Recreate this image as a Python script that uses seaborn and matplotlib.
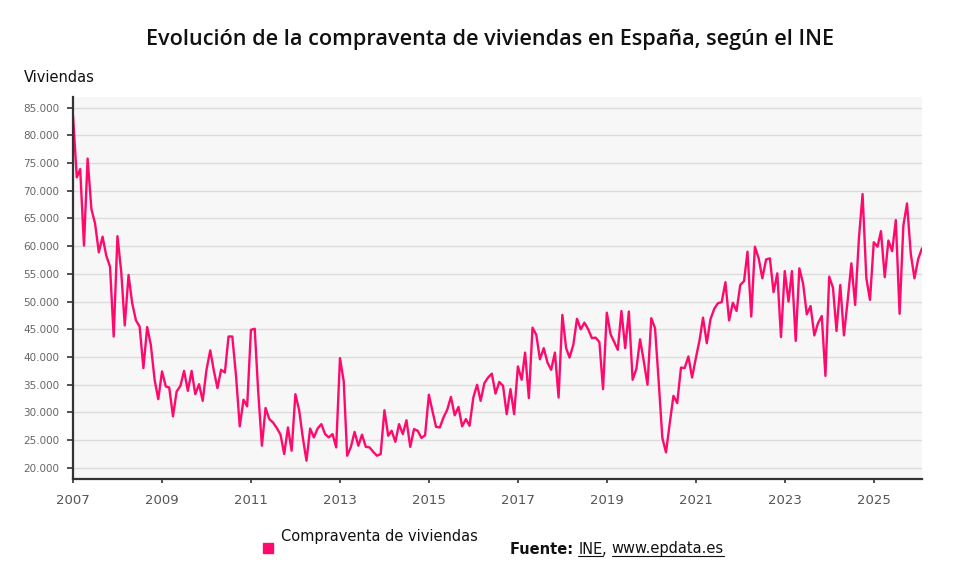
import matplotlib.pyplot as plt
import matplotlib.ticker as mticker
from matplotlib.lines import Line2D
import seaborn as sns
import pandas as pd

# Compraventa de viviendas, datos mensuales desde enero de 2007
inicio = '2007-01-01'
compraventa = [
    83600, 72400, 73900, 60100, 75800, 66700, 64100, 58900, 61700, 58300, 56300, 43700,  # 2007
    61800, 55400, 45700, 54800, 49700, 46600, 45500, 38000, 45400, 42200, 35900, 32400,  # 2008
    37400, 34700, 34500, 29300, 33800, 34800, 37500, 33900, 37500, 33300, 35100, 32100,  # 2009
    37700, 41200, 37700, 34400, 37700, 37200, 43700, 43700, 36500, 27500, 32300, 31100,  # 2010
    44900, 45100, 34000, 24000, 30800, 28800, 28200, 27200, 26000, 22500, 27300, 23100,  # 2011
    33300, 30400, 25600, 21300, 27100, 25500, 27100, 27900, 26100, 25500, 26100, 23700,  # 2012
    39800, 35600, 22200, 23800, 26500, 24000, 26000, 23800, 23700, 22900, 22200, 22500,  # 2013
    30400, 25800, 26700, 24700, 27900, 26100, 28600, 23800, 27000, 26700, 25400, 25900,  # 2014
    33200, 30100, 27400, 27300, 29100, 30500, 32800, 29500, 31000, 27500, 28800, 27600,  # 2015
    32700, 35000, 32100, 35300, 36300, 37000, 33400, 35500, 34800, 29700, 34200, 29700,  # 2016
    38300, 35900, 40800, 32600, 45300, 44000, 39600, 41600, 39000, 37700, 40800, 32700,  # 2017
    47600, 41600, 39900, 42200, 46900, 45000, 46200, 45000, 43400, 43500, 42700, 34200,  # 2018
    48000, 44100, 42800, 41300, 48300, 41600, 48200, 35900, 37900, 43200, 39200, 35000,  # 2019
    47000, 45200, 35900, 25400, 22800, 28100, 33000, 31700, 38100, 38000, 40100, 36300,  # 2020
    39800, 43100, 47100, 42500, 46800, 48700, 49700, 49900, 53500, 46600, 49800, 48300,  # 2021
    53000, 53700, 59000, 47300, 59900, 57800, 54200, 57600, 57800, 51700, 55100, 43600,  # 2022
    55500, 50000, 55500, 42900, 56000, 53200, 47700, 49200, 43900, 46100, 47400, 36600,  # 2023
    54500, 52500, 44700, 53000, 43900, 50300, 56900, 49400, 61400, 69400, 54200, 50300,  # 2024
    60700, 59900, 62700, 54400, 61000, 59100, 64700, 47800, 63700, 67700, 58600, 54200,  # 2025
    57700, 59600,  # 2026
]
anios_ticks = [2007, 2009, 2011, 2013, 2015, 2017, 2019, 2021, 2023, 2025]
y_ticks = list(range(20000, 85001, 5000))

color_serie = '#ff0a6c'

df = pd.DataFrame({
    'fecha': pd.date_range(inicio, periods=len(compraventa), freq='MS'),
    'viviendas': compraventa,
})

sns.set_style('white')
plt.rcParams['font.family'] = ['DejaVu Sans']

fig = plt.figure(figsize=(9.8, 5.88), dpi=100)
ax = fig.add_axes([73 / 980, 1 - 479 / 588, (922 - 73) / 980, (479 - 97) / 588])
ax.set_facecolor('#f7f7f7')

sns.lineplot(data=df, x='fecha', y='viviendas', color=color_serie, linewidth=1.7, ax=ax)

ax.set_xlim(df['fecha'].iloc[0], df['fecha'].iloc[-1])
ax.set_ylim(18000, 86900)
ax.set_xticks([pd.Timestamp(f'{a}-01-01') for a in anios_ticks])
ax.set_xticklabels([str(a) for a in anios_ticks])
ax.set_yticks(y_ticks)
ax.yaxis.set_major_formatter(mticker.FuncFormatter(lambda v, p: f'{int(v):,}'.replace(',', '.')))
ax.set_xlabel('')
ax.set_ylabel('')

ax.grid(axis='y', color='#dcdcdc', linewidth=1)
ax.grid(axis='x', visible=False)
ax.set_axisbelow(True)
for lado in ['top', 'right']:
    ax.spines[lado].set_visible(False)
for lado in ['left', 'bottom']:
    ax.spines[lado].set_color('#333333')
    ax.spines[lado].set_linewidth(1.6)
ax.tick_params(axis='y', direction='out', length=4, width=1.2, color='#333333',
               labelsize=7.5, labelcolor='#666666', pad=6, left=True)
ax.tick_params(axis='x', direction='out', length=3, width=1.2, color='#333333',
               labelsize=9.5, labelcolor='#555555', pad=8, bottom=True)

fig.text(0.5, 1 - 39 / 588, 'Evolución de la compraventa de viviendas en España, según el INE',
         ha='center', va='center', fontsize=15.6, color='#111111',
         family=['Open Sans', 'DejaVu Sans'], weight='semibold')
fig.text(24 / 980, 1 - 78 / 588, 'Viviendas', ha='left', va='center', fontsize=10.5, color='#111111')

# Leyenda: marca cuadrada y texto algo mas arriba, como en el original
fig.add_artist(Line2D([268 / 980], [1 - 548 / 588], marker='s', linestyle='None',
                      color=color_serie, markersize=7, transform=fig.transFigure))
fig.text(281 / 980, 1 - 536 / 588, 'Compraventa de viviendas', ha='left', va='center',
         fontsize=10.5, color='#111111')

# Fuente con subrayados
fig.canvas.draw()
rend = fig.canvas.get_renderer()
W, H = fig.bbox.width, fig.bbox.height
y_fuente = 1 - 549 / 588
x = 510 / 980
partes = [('Fuente: ', 'bold', False), ('INE', 'normal', True), (', ', 'normal', False),
          ('www.epdata.es', 'normal', True)]
for texto, peso, subrayado in partes:
    t = fig.text(x, y_fuente, texto, ha='left', va='center', fontsize=10.5,
                 weight=peso, color='#111111')
    bb = t.get_window_extent(rend)
    if subrayado:
        fig.add_artist(Line2D([bb.x0 / W, bb.x1 / W], [(bb.y0 + 1) / H, (bb.y0 + 1) / H],
                              color='#111111', linewidth=0.8, transform=fig.transFigure))
    x = bb.x1 / W

fig.savefig('out.png', dpi=100)
